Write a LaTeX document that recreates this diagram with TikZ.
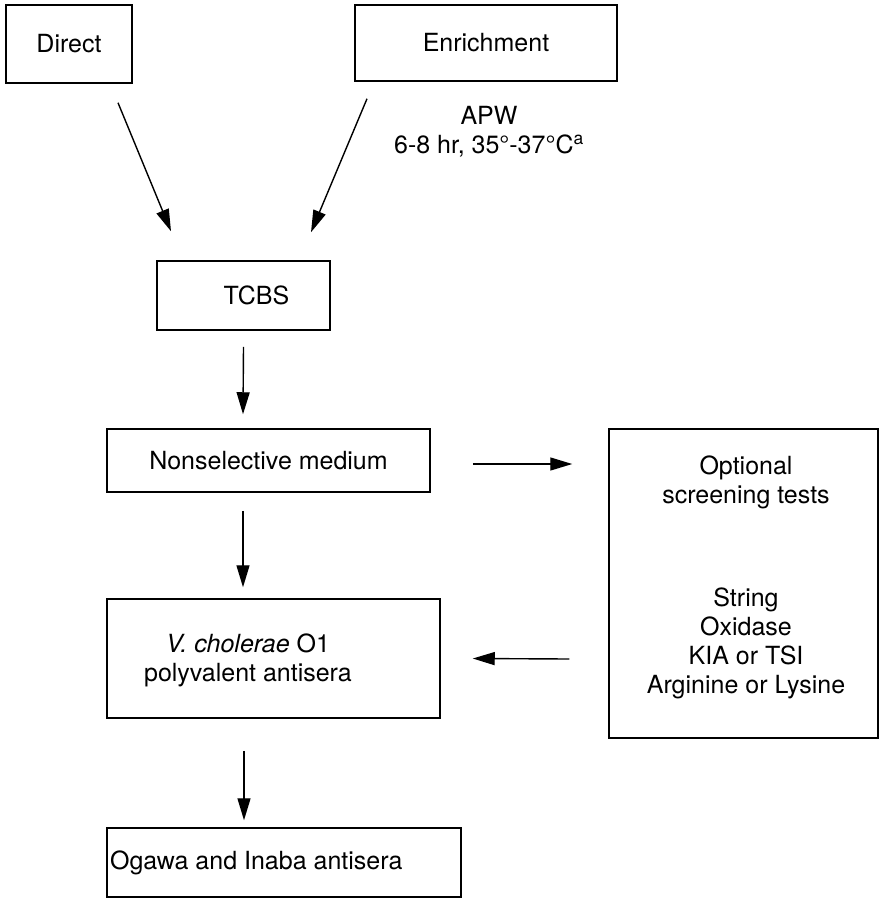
\documentclass[tikz,border=0pt]{standalone}
\usepackage{fontspec}
\setmainfont{TeX Gyre Heros}
\usetikzlibrary{arrows.meta}
\begin{document}
\begin{tikzpicture}[x=1pt,y=-1pt,
  box/.style={draw,line width=1.5pt,rectangle,inner sep=0pt,font=\fontsize{25}{29}\selectfont},
  txt/.style={inner sep=0pt,font=\fontsize{25}{29}\selectfont,align=center},
  arr/.style={line width=1.4pt,-{Triangle[length=22pt,width=13pt]}}]
\useasboundingbox (0,0) rectangle (880,898);
\node[box,minimum width=126,minimum height=78] (direct) at (69,44) {Direct};
\node[box,minimum width=262,minimum height=76] (enrich) at (486,43) {Enrichment};
\node[txt] (apw) at (489,132) {APW\\6-8 hr, 35°-37°C\textsuperscript{a}};
\node[box,minimum width=173,minimum height=69] (tcbs) at (243.5,295.5) {\hspace*{26pt}TCBS};
\node[box,minimum width=323,minimum height=63] (nonsel) at (268.5,460.5) {Nonselective medium};
\node[box,minimum width=333,minimum height=119] (vc) at (273.5,658.5) {};
\node[txt] (vctext) at (248,660) {\textit{V. cholerae} O1\\polyvalent antisera};
\node[box,minimum width=354,minimum height=69] (ogawa) at (284,862.5) {};
\node[txt,anchor=west] (ogtext) at (110,863) {Ogawa and Inaba antisera};
\node[box,minimum width=269,minimum height=309] (opt) at (743.5,583.5) {};
\node[txt] (opttop) at (746,482) {Optional\\screening tests};
\node[txt] (optlist) at (746,643) {String\\Oxidase\\KIA or TSI\\Arginine or Lysine};
\draw[arr] ([xshift=49,yshift=-19]direct.south) -- ([xshift=-72.5,yshift=29]tcbs.north);
\draw[arr] ([xshift=-119,yshift=-17]enrich.south) -- ([xshift=67.5,yshift=28]tcbs.north);
\draw[arr] ([xshift=0,yshift=-16]tcbs.south) -- ([xshift=-25.5,yshift=14]nonsel.north);
\draw[arr] ([xshift=-25.5,yshift=-18]nonsel.south) -- ([xshift=-30.5,yshift=11]vc.north);
\draw[arr] ([xshift=-29.5,yshift=-32]vc.south) -- ([xshift=-40,yshift=7]ogawa.north);
\draw[arr] ([xshift=42,yshift=-3.5]nonsel.east) -- ([xshift=-36,yshift=119.5]opt.west);
\draw[arr] ([xshift=-39,yshift=-75.5]opt.west) -- ([xshift=32,yshift=0]vc.east);
\end{tikzpicture}
\end{document}
